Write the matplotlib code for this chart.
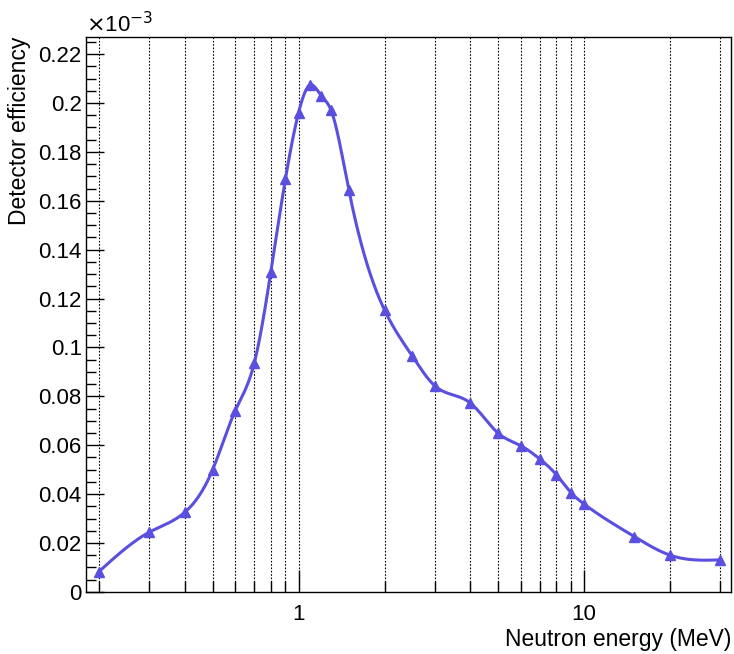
import numpy as np
import matplotlib.pyplot as plt
from matplotlib.ticker import LogLocator, FixedLocator, MultipleLocator, FuncFormatter, NullFormatter

plt.rcParams['font.family'] = ['Liberation Sans', 'DejaVu Sans']

# neutron energy (MeV) and detector efficiency (x 1e-3)
energy = [0.2, 0.3, 0.4, 0.5, 0.6, 0.7, 0.8, 0.9, 1.0, 1.1, 1.2, 1.3, 1.5,
          2.0, 2.5, 3.0, 4.0, 5.0, 6.0, 7.0, 8.0, 9.0, 10.0, 15.0, 20.0, 30.0]
eff = [0.0083, 0.0244, 0.0326, 0.0499, 0.0741, 0.0937, 0.131, 0.1690, 0.196,
       0.2074, 0.2030, 0.1970, 0.1644, 0.1153, 0.0965, 0.0843, 0.0772, 0.0649,
       0.0598, 0.0543, 0.0479, 0.0406, 0.0359, 0.0226, 0.0150, 0.0131]

line_col = '#5a4fdf'


def natural_spline(x, y, xs):
    # natural cubic spline through (x, y), evaluated at xs
    x = np.asarray(x, float)
    y = np.asarray(y, float)
    n = len(x)
    h = np.diff(x)
    A = np.zeros((n, n))
    b = np.zeros(n)
    A[0, 0] = 1
    A[-1, -1] = 1
    for i in range(1, n - 1):
        A[i, i - 1] = h[i - 1]
        A[i, i] = 2 * (h[i - 1] + h[i])
        A[i, i + 1] = h[i]
        b[i] = 6 * ((y[i + 1] - y[i]) / h[i] - (y[i] - y[i - 1]) / h[i - 1])
    M = np.linalg.solve(A, b)
    k = np.clip(np.searchsorted(x, xs) - 1, 0, n - 2)
    t0 = x[k + 1] - xs
    t1 = xs - x[k]
    hk = h[k]
    return (M[k] * t0**3 / (6 * hk) + M[k + 1] * t1**3 / (6 * hk)
            + (y[k] / hk - M[k] * hk / 6) * t0
            + (y[k + 1] / hk - M[k + 1] * hk / 6) * t1)


lx = np.log10(energy)
xs = np.linspace(lx[0], lx[-1], 800)
ys = natural_spline(lx, eff, xs)

fig = plt.figure(figsize=(7.34, 6.54), dpi=100)
ax = fig.add_axes([0.117, 0.095, 0.879, 0.8485])

ax.set_xscale('log')
ax.set_xlim(0.18, 32.7)
ax.set_ylim(0, 0.227)

ax.plot(10**xs, ys, color=line_col, lw=2.2, zorder=3)
ax.plot(energy, eff, ls='', marker='^', ms=7, color=line_col, zorder=4)

# vertical dotted grid at every log tick
grid_x = [0.2, 0.3, 0.4, 0.5, 0.6, 0.7, 0.8, 0.9, 1, 2, 3, 4, 5, 6, 7, 8, 9, 10, 20, 30]
for g in grid_x:
    ax.axvline(g, color='black', lw=0.8, ls=(0, (1.5, 1.5)), zorder=1)

ax.xaxis.set_major_locator(FixedLocator([1, 10]))
ax.xaxis.set_minor_locator(LogLocator(base=10, subs=np.arange(2, 10)))
ax.xaxis.set_major_formatter(FuncFormatter(lambda v, p: '%g' % v))
ax.xaxis.set_minor_formatter(NullFormatter())

ax.yaxis.set_major_locator(MultipleLocator(0.02))
ax.yaxis.set_minor_locator(MultipleLocator(0.005))
ax.yaxis.set_major_formatter(FuncFormatter(lambda v, p: '%g' % round(v, 3)))

ax.tick_params(axis='both', which='both', direction='in', top=False, right=False,
               labelsize=16, width=1)
ax.tick_params(axis='y', which='major', length=13, pad=3)
ax.tick_params(axis='y', which='minor', length=7)
ax.tick_params(axis='x', which='major', length=16, pad=9)
ax.tick_params(axis='x', which='minor', length=8)

for s in ax.spines.values():
    s.set_linewidth(1)

ax.set_xlabel('Neutron energy (MeV)', fontsize=16.5, loc='right', labelpad=2)
ax.set_ylabel('Detector efficiency', fontsize=16.5, loc='top', labelpad=5)
ax.text(0.0, 1.0, r'$\times$10$^{-3}$', transform=ax.transAxes,
        fontsize=16, ha='left', va='bottom')

fig.savefig('out.png', dpi=100)
